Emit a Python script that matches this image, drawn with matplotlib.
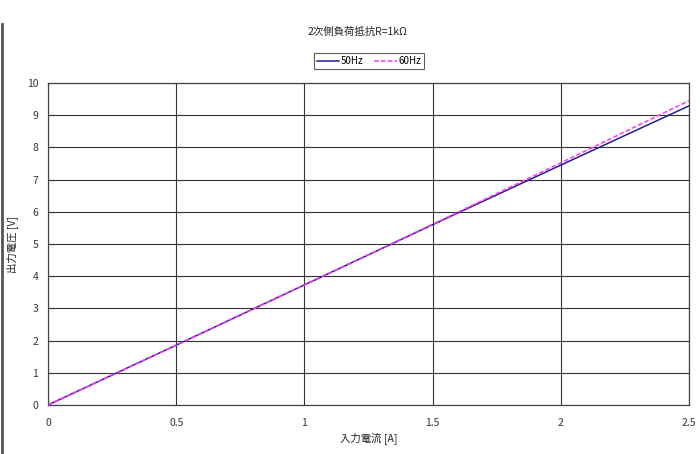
import matplotlib
matplotlib.use("Agg")
import matplotlib.pyplot as plt
from matplotlib.lines import Line2D

plt.rcParams['font.family'] = ['Noto Sans CJK JP', 'DejaVu Sans']

current = [0, 0.5, 1.0, 1.5, 2.0, 2.5]
v50 = [0, 1.86, 3.73, 5.6, 7.45, 9.29]
v60 = [0, 1.86, 3.73, 5.61, 7.52, 9.45]
title = "2次側負荷抵抗R=1kΩ"
xlabel = "入力電流 [A]"
ylabel = "出力電圧 [V]"
xticks = [0, 0.5, 1, 1.5, 2, 2.5]
xticklabels = ["0", "0.5", "1", "1.5", "2", "2.5"]
yticks = list(range(0, 11))

fig = plt.figure(figsize=(7, 4.54), dpi=100)
ax = fig.add_axes([48/700, 1-405/454, (689-48)/700, (405-83)/454])

ax.plot(current, v50, color='#1f1f8f', lw=1.1, label='50Hz', zorder=3)
ax.plot(current, v60, color='#ff33ff', lw=1.1, ls=(0, (3, 1.5)), label='60Hz', zorder=4)

ax.set_xlim(0, 2.5)
ax.set_ylim(0, 10)
ax.set_xticks(xticks)
ax.set_xticklabels(xticklabels)
ax.set_yticks(yticks)
ax.grid(True, color='#333333', lw=0.8)
ax.tick_params(axis='x', length=0, labelsize=7.5, colors='#333333', pad=9)
ax.tick_params(axis='y', length=0, labelsize=7.5, colors='#333333', pad=7)
for s in ax.spines.values():
    s.set_color('#444444')
    s.set_linewidth(0.9)

ax.set_xlabel(xlabel, fontsize=7.5, labelpad=3, color='#222222')
ax.set_ylabel(ylabel, fontsize=7.5, labelpad=6, color='#222222')

fig.text(358/700, 1-32/454, title, ha='center', va='center', fontsize=7.5, color='#222222')
leg = fig.legend(loc='center', bbox_to_anchor=(369/700, 1-61/454), ncol=2,
                 fontsize=7, frameon=True, fancybox=False, edgecolor='#333333',
                 handlelength=2.3, columnspacing=1.1, handletextpad=0.2,
                 borderpad=0.3, borderaxespad=0)
leg.get_frame().set_linewidth(0.8)

fig.add_artist(Line2D([1.5/700, 1.5/700], [0, 1-24/454], color='#555555', lw=2,
                      transform=fig.transFigure))

fig.savefig("out.png", dpi=100, facecolor='white')
